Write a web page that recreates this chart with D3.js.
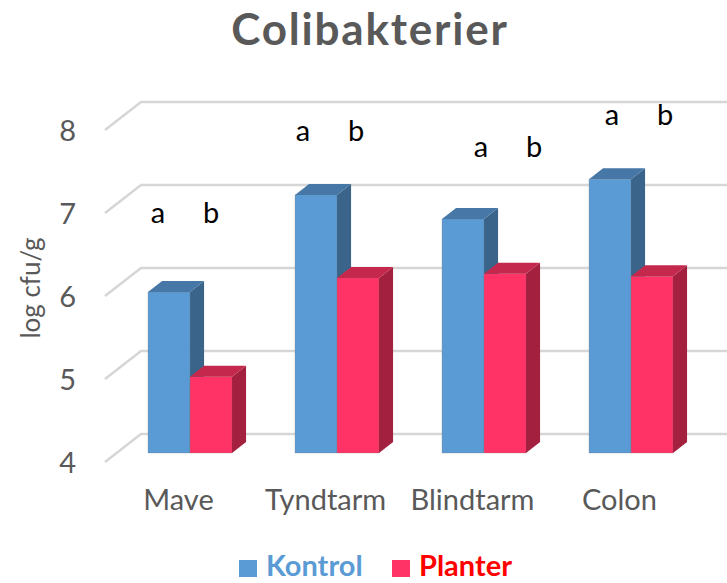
<!DOCTYPE html>
<html>
<head>
<meta charset="utf-8">
<script src="https://cdn.jsdelivr.net/npm/d3@7"></script>
<style>
  body { margin: 0; background: #fff; }
  svg { display: block; font-family: Lato, "Open Sans", sans-serif; }
</style>
</head>
<body>
<div class="grafico"></div>
<script>
const categories = ["Mave", "Tyndtarm", "Blindtarm", "Colon"];
const seriesNames = ["Kontrol", "Planter"];
const kontrol = [5.94, 7.11, 6.82, 7.30];
const planter = [4.92, 6.11, 6.16, 6.13];
const yTicks = [4, 5, 6, 7, 8];
// letters above each pair, and the level (log cfu/g) of their baseline
const letterA = ["a", "a", "a", "a"];
const letterB = ["b", "b", "b", "b"];
const letterLevel = [6.88, 7.87, 7.67, 8.06];
const letterShift = [-32, -34, -3, -19];

const width = 727, height = 583;
const depthX = 36, depthY = -28;          // floor depth vector
const barFront = 0.32, barBack = 0.71;     // bar position inside the depth

const svg = d3.select(".grafico")
    .append("svg")
    .attr("width", width)
    .attr("height", height);

const x = d3.scaleBand()
    .domain(categories)
    .range([105, 693]);

const y = d3.scaleLinear()
    .domain([4, 8])
    .range([462, 130]);

const inner = d3.scaleBand()
    .domain(seriesNames)
    .range([31.5, 147 - 31.5]);

// front-plane point pushed back by a fraction of the depth
function proj(px, v, f) {
    return [px + f * depthX, y(v) + f * depthY];
}

const colors = {
    Kontrol: { front: "#5B9BD5", side: "#3A6489", top: "#4677A6" },
    Planter: { front: "#FF3366", side: "#A3203F", top: "#C5284D" }
};

// title
svg.append("text")
    .attr("x", 370)
    .attr("y", 45)
    .attr("text-anchor", "middle")
    .attr("font-size", 44)
    .attr("font-weight", "bold")
    .attr("letter-spacing", 1.8)
    .attr("fill", "#595959")
    .text("Colibakterier");

// gridlines: side wall diagonal + back wall line
const grid = svg.append("g").attr("class", "grid");
yTicks.forEach(t => {
    const a = proj(105, t, 0), b = proj(105, t, 1);
    grid.append("path")
        .attr("d", `M${a[0]},${a[1]}L${b[0]},${b[1]}L${width + 5},${b[1]}`)
        .attr("fill", "none")
        .attr("stroke", "#D6D6D6")
        .attr("stroke-width", 2.5);
});

// y tick labels
svg.append("g").selectAll("text")
    .data(yTicks)
    .enter().append("text")
    .attr("x", 76)
    .attr("y", d => y(d) + 11)
    .attr("text-anchor", "end")
    .attr("font-size", 29)
    .attr("fill", "#595959")
    .text(d => d);

svg.append("text")
    .attr("transform", "translate(40, 288) rotate(-90)")
    .attr("text-anchor", "middle")
    .attr("font-size", 26)
    .attr("fill", "#595959")
    .text("log cfu/g");

// bars
const rows = [];
categories.forEach((c, i) => {
    rows.push({ cat: c, key: "Kontrol", value: kontrol[i] });
    rows.push({ cat: c, key: "Planter", value: planter[i] });
});

function pts(list) {
    return list.map(p => p.join(",")).join(" ");
}

const bars = svg.append("g").attr("class", "bars");
rows.forEach(d => {
    const x0 = x(d.cat) + inner(d.key);
    const x1 = x0 + inner.bandwidth();
    const col = colors[d.key];
    const g = bars.append("g");
    // front face
    g.append("polygon")
        .attr("points", pts([proj(x0, 4, barFront), proj(x1, 4, barFront), proj(x1, d.value, barFront), proj(x0, d.value, barFront)]))
        .attr("fill", col.front)
        .attr("stroke", "rgba(120,120,120,0.35)")
        .attr("stroke-width", 0.8);
    // side face
    g.append("polygon")
        .attr("points", pts([proj(x1, 4, barFront), proj(x1, 4, barBack), proj(x1, d.value, barBack), proj(x1, d.value, barFront)]))
        .attr("fill", col.side);
    // top face
    g.append("polygon")
        .attr("points", pts([proj(x0, d.value, barFront), proj(x1, d.value, barFront), proj(x1, d.value, barBack), proj(x0, d.value, barBack)]))
        .attr("fill", col.top);
});

// letters
const letters = svg.append("g").attr("font-size", 29).attr("fill", "#000");
categories.forEach((c, i) => {
    const cx = x(c) + x.bandwidth() / 2 + barFront * depthX + letterShift[i];
    const cy = y(letterLevel[i]);
    letters.append("text").attr("x", cx).attr("y", cy)
        .attr("text-anchor", "middle").text(letterA[i]);
    letters.append("text").attr("x", cx + 53).attr("y", cy)
        .attr("text-anchor", "middle").text(letterB[i]);
});

// category labels
svg.append("g").selectAll("text")
    .data(categories)
    .enter().append("text")
    .attr("x", d => x(d) + x.bandwidth() / 2)
    .attr("y", 510)
    .attr("text-anchor", "middle")
    .attr("font-size", 29)
    .attr("fill", "#595959")
    .text(d => d);

// legend
const legendX = [239, 392];
const legendColors = ["#5B9BD5", "#FF3366"];
const legendText = ["#5B9BD5", "#FF0000"];
const legend = svg.append("g");
seriesNames.forEach((s, i) => {
    legend.append("rect")
        .attr("x", legendX[i]).attr("y", 560)
        .attr("width", 18).attr("height", 17)
        .attr("fill", legendColors[i]);
    legend.append("text")
        .attr("x", legendX[i] + 27).attr("y", 576)
        .attr("font-size", 29)
        .attr("font-weight", "bold")
        .attr("fill", legendText[i])
        .text(s);
});
</script>
</body>
</html>
